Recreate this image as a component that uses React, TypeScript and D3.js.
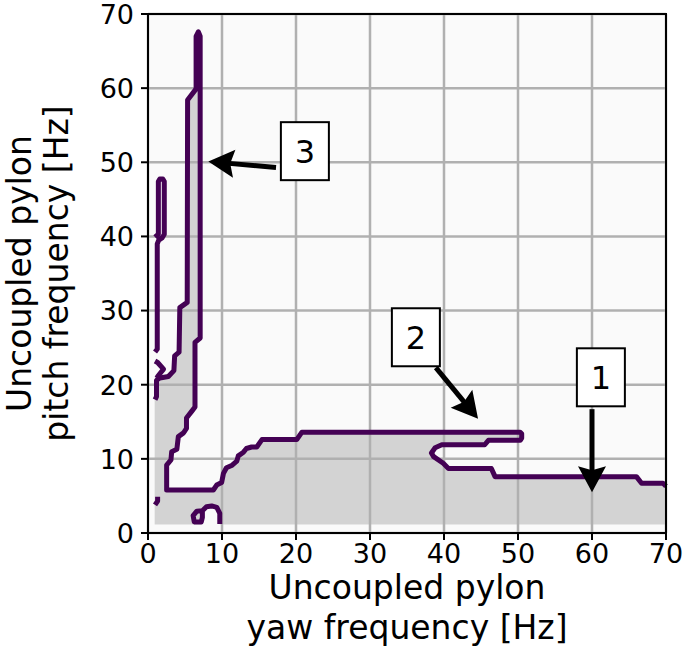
import React from "react";
import * as d3 from "d3";

const WIDTH = 685;
const HEIGHT = 669;
const PLOT = { left: 148, right: 666, top: 14, bottom: 533 };
const FONT = "DejaVu Sans";

const xTicks = [0, 10, 20, 30, 40, 50, 60, 70];
const yTicks = [0, 10, 20, 30, 40, 50, 60, 70];

// main stability boundary, traced from the right edge (yaw Hz, pitch Hz)
const mainContour: [number, number][] = [
  [70.0, 6.3], [69.6, 6.7], [66.7, 6.7], [66.0, 7.6], [46.9, 7.6],
  [46.4, 8.7], [40.6, 8.7], [39.9, 9.4], [38.6, 10.3], [38.3, 10.8],
  [38.8, 11.5], [39.7, 11.9], [45.5, 11.9], [46.0, 12.5], [50.3, 12.5],
  [50.5, 12.8], [50.5, 13.4], [50.3, 13.6], [20.8, 13.6], [20.1, 12.6],
  [15.4, 12.6], [14.7, 11.6], [14.0, 11.6], [13.3, 11.4], [12.9, 10.9],
  [12.2, 10.4], [12.0, 9.7], [11.3, 9.1], [10.6, 8.8], [10.2, 8.05],
  [9.95, 6.8], [9.28, 6.47], [8.83, 5.8], [2.52, 5.8], [2.52, 9.17],
  [3.1, 9.85], [3.2, 10.97], [3.9, 11.3], [4.1, 13.0], [4.8, 13.5],
  [5.2, 14.1], [5.2, 15.5], [5.9, 16.4], [6.35, 17.0], [6.35, 25.7],
  [7.05, 26.3], [7.05, 67.0], [6.8, 67.6], [6.5, 67.0], [6.5, 59.9],
  [5.35, 58.4], [5.3, 31.1], [4.3, 30.4], [4.2, 24.4], [3.6, 23.9],
  [3.5, 21.9], [2.75, 21.1], [1.6, 20.9], [1.15, 20.6], [1.15, 18.4],
  [0.95, 18.0],
];

// closing corners for the shaded (stable) region
const fillCorners: [number, number][] = [[0.9, 18.0], [0.9, 1.15], [70, 1.15]];

const leftLoop: [number, number][] = [
  [0.95, 39.9], [1.4, 40.3], [1.4, 47.4], [1.6, 47.75], [2.0, 47.75],
  [2.2, 47.4], [2.2, 40.3], [1.9, 39.8], [1.45, 39.5], [1.25, 39.0],
  [1.25, 24.8], [0.95, 24.4],
];

const leftZig: [number, number][] = [
  [0.95, 23.2], [1.3, 23.0], [2.1, 22.1], [1.3, 21.1], [1.2, 20.9],
];

const edgeTick: [number, number][] = [[1.3, 4.9], [1.3, 4.3], [0.95, 3.8]];

const lowLoop: [number, number][] = [
  [9.7, 1.2], [9.7, 2.65], [9.3, 3.45], [8.6, 3.65], [7.9, 3.55],
  [7.35, 3.0], [6.6, 2.95], [6.1, 2.35], [6.25, 1.5], [7.2, 1.5],
  [7.35, 2.1], [7.35, 3.0],
];

const lowLoopHole: [number, number][] = [
  [7.35, 1.15], [7.35, 3.0], [7.9, 3.55], [8.6, 3.65], [9.3, 3.45],
  [9.7, 2.65], [9.7, 1.15],
];

// annotations
const labels = ["1", "2", "3"];
const labelPos: [number, number][] = [[61.2, 21.0], [36.2, 26.4], [21.2, 51.5]];
const arrowFrom: [number, number][] = [[60.0, 16.7], [38.9, 22.3], [17.3, 49.3]];
const arrowTo: [number, number][] = [[60.0, 5.5], [44.6, 15.4], [8.15, 50.1]];

const xScale = d3.scaleLinear().domain([0, 70]).range([PLOT.left, PLOT.right]);
const yScale = d3.scaleLinear().domain([0, 70]).range([PLOT.bottom, PLOT.top]);

const line = d3
  .line<[number, number]>()
  .x((d) => xScale(d[0]))
  .y((d) => yScale(d[1]));

function Arrow({ from, to }: { from: [number, number]; to: [number, number] }) {
  const x0 = xScale(from[0]);
  const y0 = yScale(from[1]);
  const x1 = xScale(to[0]);
  const y1 = yScale(to[1]);
  const len = Math.hypot(x1 - x0, y1 - y0);
  const ux = (x1 - x0) / len;
  const uy = (y1 - y0) / len;
  const hl = 26;
  const hw = 14;
  const bx = x1 - ux * hl;
  const by = y1 - uy * hl;
  const head = [
    [x1, y1],
    [bx - uy * hw, by + ux * hw],
    [bx + ux * 4, by + uy * 4],
    [bx + uy * hw, by - ux * hw],
  ];
  return (
    <g>
      <line x1={x0} y1={y0} x2={bx + ux * 5} y2={by + uy * 5} stroke="black" strokeWidth={5} />
      <polygon points={head.map((p) => p.join(",")).join(" ")} fill="black" />
    </g>
  );
}

export default function App() {
  const fillPath =
    line([...mainContour, ...fillCorners])! + "Z" + line(lowLoopHole)! + "Z";
  const contourStyle = {
    fill: "none",
    stroke: "#440154",
    strokeWidth: 5,
    strokeLinejoin: "round" as const,
  };

  return (
    <svg
      width={WIDTH}
      height={HEIGHT}
      style={{ position: "absolute", left: 0, top: 0, background: "white" }}
      fontFamily={FONT}
    >
      <rect
        x={PLOT.left}
        y={PLOT.top}
        width={PLOT.right - PLOT.left}
        height={PLOT.bottom - PLOT.top}
        fill="#fafafa"
      />
      <path d={fillPath} fill="#d3d3d3" fillRule="evenodd" />

      {/* grid */}
      {xTicks.map((t) => (
        <line key={"gx" + t} x1={xScale(t)} x2={xScale(t)} y1={PLOT.top} y2={PLOT.bottom} stroke="#b0b0b0" strokeWidth={2.5} />
      ))}
      {yTicks.map((t) => (
        <line key={"gy" + t} x1={PLOT.left} x2={PLOT.right} y1={yScale(t)} y2={yScale(t)} stroke="#b0b0b0" strokeWidth={2.5} />
      ))}

      {/* contour lines */}
      <path d={line(mainContour)!} style={contourStyle} />
      <path d={line(leftLoop)!} style={contourStyle} />
      <path d={line(leftZig)!} style={contourStyle} />
      <path d={line(edgeTick)!} style={contourStyle} />
      <path d={line(lowLoop)!} style={contourStyle} />

      {/* frame */}
      <rect
        x={PLOT.left}
        y={PLOT.top}
        width={PLOT.right - PLOT.left}
        height={PLOT.bottom - PLOT.top}
        fill="none"
        stroke="black"
        strokeWidth={2}
      />

      {/* x axis ticks */}
      {xTicks.map((t) => (
        <g key={"xt" + t}>
          <line x1={xScale(t)} x2={xScale(t)} y1={PLOT.bottom} y2={PLOT.bottom + 7} stroke="black" strokeWidth={2} />
          <text x={xScale(t)} y={PLOT.bottom + 30} textAnchor="middle" fontSize={27}>
            {t}
          </text>
        </g>
      ))}
      {/* y axis ticks */}
      {yTicks.map((t) => (
        <g key={"yt" + t}>
          <line x1={PLOT.left - 7} x2={PLOT.left} y1={yScale(t)} y2={yScale(t)} stroke="black" strokeWidth={2} />
          <text x={PLOT.left - 14} y={yScale(t) + 9.8} textAnchor="end" fontSize={27}>
            {t}
          </text>
        </g>
      ))}

      {/* axis labels */}
      <text x={(PLOT.left + PLOT.right) / 2} y={599} textAnchor="middle" fontSize={33}>
        Uncoupled pylon
      </text>
      <text x={(PLOT.left + PLOT.right) / 2} y={639} textAnchor="middle" fontSize={33}>
        yaw frequency [Hz]
      </text>
      <g transform={`translate(31, ${(PLOT.top + PLOT.bottom) / 2}) rotate(-90)`}>
        <text x={0} y={0} textAnchor="middle" fontSize={33}>
          Uncoupled pylon
        </text>
        <text x={0} y={37} textAnchor="middle" fontSize={33}>
          pitch frequency [Hz]
        </text>
      </g>

      {/* annotations */}
      {labels.map((lab, i) => (
        <Arrow key={"a" + lab} from={arrowFrom[i]} to={arrowTo[i]} />
      ))}
      {labels.map((lab, i) => {
        const cx = xScale(labelPos[i][0]);
        const cy = yScale(labelPos[i][1]);
        return (
          <g key={"b" + lab}>
            <rect x={cx - 24} y={cy - 29} width={48} height={58} fill="white" stroke="black" strokeWidth={2} />
            <text x={cx} y={cy + 11.5} textAnchor="middle" fontSize={32}>
              {lab}
            </text>
          </g>
        );
      })}
    </svg>
  );
}
